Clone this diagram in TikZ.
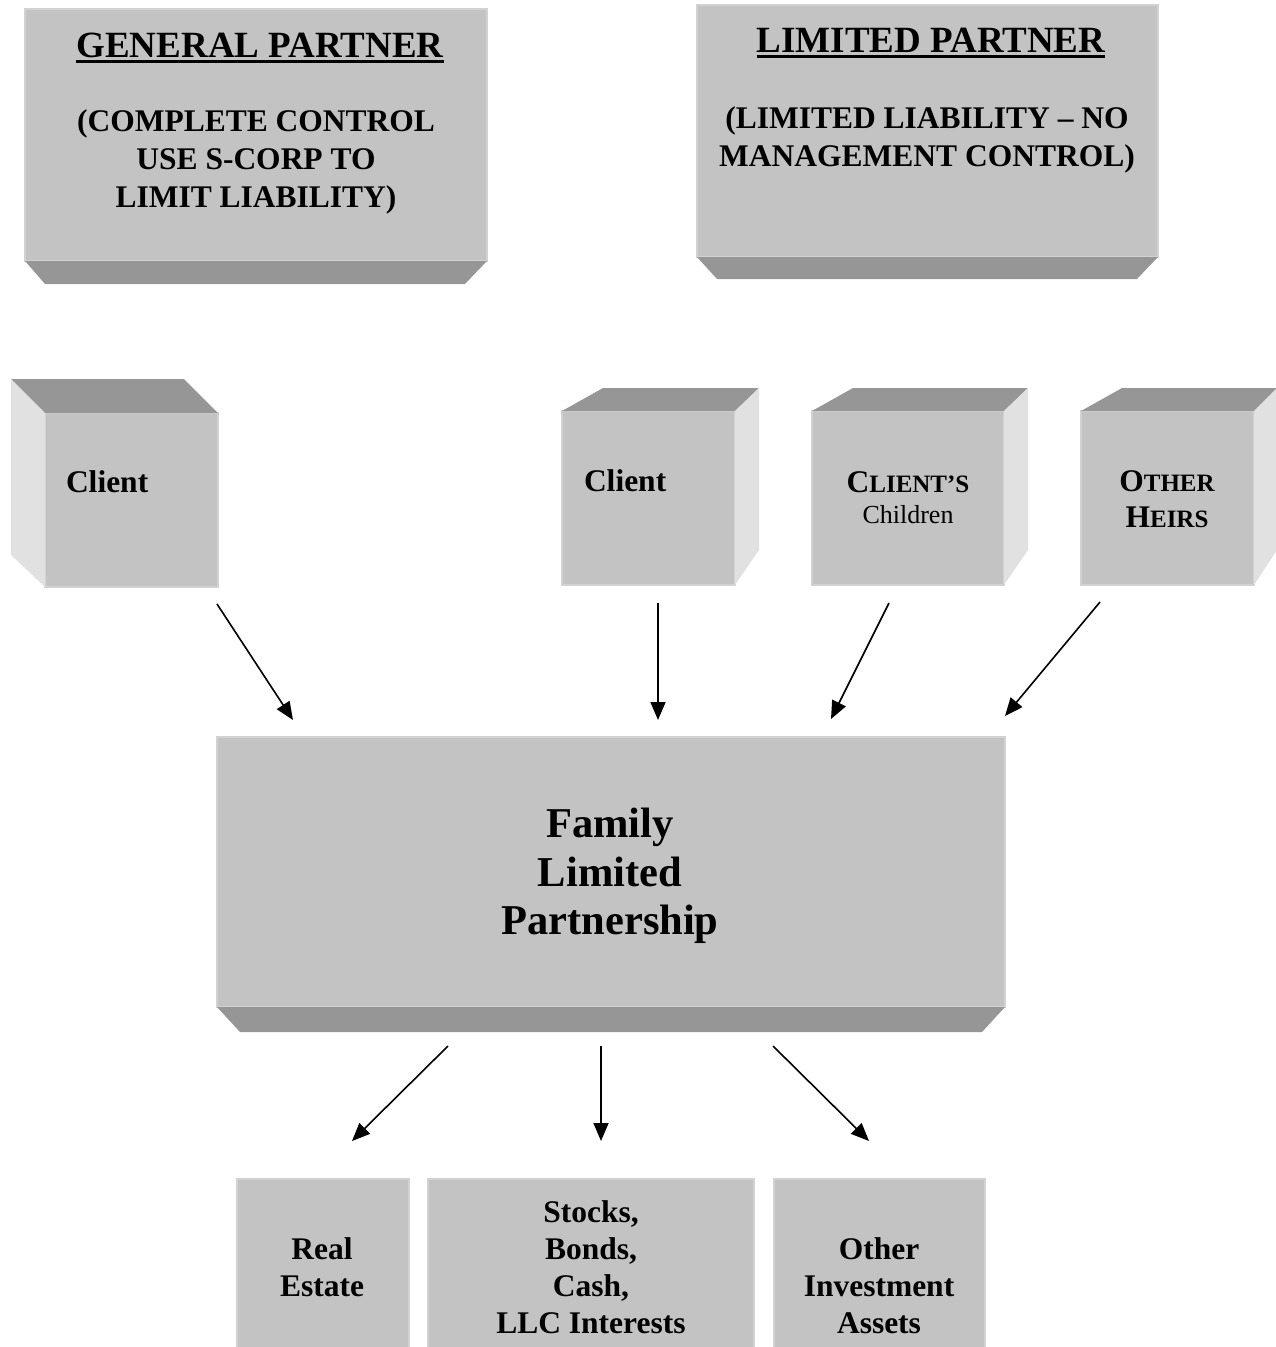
\documentclass[tikz,border=0pt]{standalone}
\usepackage{fontspec}
\setmainfont{Liberation Serif}
\usetikzlibrary{arrows.meta,calc}
\definecolor{frontc}{RGB}{195,195,195}
\definecolor{darkc}{RGB}{150,150,150}
\definecolor{lightc}{RGB}{225,225,225}
\definecolor{edgec}{RGB}{210,210,210}
\newcommand\myttl{\fontsize{37}{42}\selectfont\bfseries}
\newcommand\mybody{\fontsize{31.5}{38}\selectfont\bfseries}
\newcommand\mybot{\fontsize{31.5}{37.3}\selectfont\bfseries}
\newcommand\mybig{\fontsize{42.5}{48.5}\selectfont\bfseries}
\newcommand\mysmall{\fontsize{25}{30}\selectfont\bfseries}
\newcommand\mychild{\fontsize{26}{31}\selectfont\mdseries}
\begin{document}
\begin{tikzpicture}[x=1pt,y=-1pt,
  face/.style={draw=edgec, line width=1.2pt, fill=frontc, inner sep=0pt, outer sep=0pt, anchor=north west},
  lbl/.style={inner sep=0pt, outer sep=0pt, align=center, text=black},
  arr/.style={line width=1.6pt, -{Triangle[length=18pt,width=15pt]}}]
\useasboundingbox (0,0) rectangle (1276,1347);

% ---------- General partner ----------
\node[face, minimum width=462pt, minimum height=252pt] (gp) at (25,9) {};
\fill[darkc] (gp.south west) -- (gp.south east) -- ++(-22,23) -- ($(gp.south west)+(20,23)$) -- cycle;
\node[lbl, font=\myttl, anchor=base] (gpT) at (260,57) {GENERAL PARTNER};
\draw[line width=2.6pt] ([yshift=-4.5pt]gpT.base west) -- ([yshift=-4.5pt]gpT.base east);
\node[lbl, font=\mybody, anchor=north] (gpB) at (256,104.4) {\strut(COMPLETE CONTROL\\USE S-CORP TO\\LIMIT LIABILITY)};

% ---------- Limited partner ----------
\node[face, minimum width=461pt, minimum height=252pt] (lp) at (697,5) {};
\fill[darkc] (lp.south west) -- (lp.south east) -- ++(-21,22) -- ($(lp.south west)+(20,22)$) -- cycle;
\node[lbl, font=\myttl, anchor=base] (lpT) at (931,52) {LIMITED PARTNER};
\draw[line width=2.6pt] ([yshift=-4.5pt]lpT.base west) -- ([yshift=-4.5pt]lpT.base east);
\node[lbl, font=\mybody, anchor=north] (lpB) at (927,101.4) {\strut(LIMITED LIABILITY -- NO\\MANAGEMENT CONTROL)};

% ---------- Left client cube ----------
\node[face, minimum width=173pt, minimum height=174pt] (c1) at (45,413) {};
\fill[darkc] (c1.north west) -- (c1.north east) -- ++(-34,-34) -- ($(c1.north west)+(-34,-34)$) -- cycle;
\fill[lightc] (c1.north west) -- ++(-34,-34) -- ($(c1.south west)+(-34,-32)$) -- (c1.south west) -- cycle;
\node[lbl, font=\mybody, anchor=base west] (c1T) at (66,492) {Client};

% ---------- Middle client cube ----------
\node[face, minimum width=173pt, minimum height=174pt] (c2) at (562,411) {};
\fill[darkc] (c2.north west) -- (c2.north east) -- ++(24,-23) -- ($(c2.north west)+(41,-23)$) -- cycle;
\fill[lightc] (c2.north east) -- ++(24,-23) -- ($(c2.south east)+(24,-35)$) -- (c2.south east) -- cycle;
\node[lbl, font=\mybody, anchor=base west] (c2T) at (584,491) {Client};

% ---------- Client's children cube ----------
\node[face, minimum width=192pt, minimum height=174pt] (c3) at (812,411) {};
\fill[darkc] (c3.north west) -- (c3.north east) -- ++(24,-23) -- ($(c3.north west)+(41,-23)$) -- cycle;
\fill[lightc] (c3.north east) -- ++(24,-23) -- ($(c3.south east)+(24,-35)$) -- (c3.south east) -- cycle;
\node[lbl, anchor=base] (c3T) at (908,492) {\mybody C\mysmall LIENT’S};
\node[lbl, font=\mychild, anchor=base] (c3S) at (908,523) {Children};

% ---------- Other heirs cube ----------
\node[face, minimum width=173pt, minimum height=174pt] (c4) at (1081,411) {};
\fill[darkc] (c4.north west) -- (c4.north east) -- ++(23,-23) -- ($(c4.north west)+(41,-23)$) -- cycle;
\fill[lightc] (c4.north east) -- ++(23,-23) -- ($(c4.south east)+(23,-35)$) -- (c4.south east) -- cycle;
\node[lbl, anchor=base] (c4T) at (1167,491) {\mybody O\mysmall THER};
\node[lbl, anchor=base] (c4S) at (1167,527) {\mybody H\mysmall EIRS};

% ---------- Family limited partnership ----------
\node[face, minimum width=788pt, minimum height=270pt] (flp) at (217,737) {};
\fill[darkc] (flp.south west) -- (flp.south east) -- ++(-23,25) -- ($(flp.south west)+(23,25)$) -- cycle;
\node[lbl, font=\mybig, anchor=north] (flpT) at (610,804) {\strut Family\\Limited\\Partnership};

% ---------- Asset boxes ----------
\node[face, minimum width=172pt, minimum height=175pt] (re) at (237,1179) {};
\node[face, minimum width=326pt, minimum height=175pt] (st) at (428,1179) {};
\node[face, minimum width=211pt, minimum height=175pt] (oi) at (774,1179) {};
\node[lbl, font=\mybot, anchor=north] (reT) at (322,1232.9) {\strut Real\\Estate};
\node[lbl, font=\mybot, anchor=north] (stT) at (591,1195.9) {\strut Stocks,\\Bonds,\\Cash,\\LLC Interests};
\node[lbl, font=\mybot, anchor=north] (oiT) at (879,1232.9) {\strut Other\\Investment\\Assets};

% ---------- Arrows ----------
\coordinate (a1s) at (217,604);  \coordinate (a1e) at (293,720);
\coordinate (a2s) at (658,603);  \coordinate (a2e) at (658,720);
\coordinate (a3s) at (889,603);  \coordinate (a3e) at (831,719);
\coordinate (a4s) at (1100,602); \coordinate (a4e) at (1005,716);
\coordinate (b1s) at (448,1046); \coordinate (b1e) at (352,1141);
\coordinate (b2s) at (601,1046); \coordinate (b2e) at (601,1141);
\coordinate (b3s) at (773,1046); \coordinate (b3e) at (869,1141);
\draw[arr] (a1s) -- (a1e);
\draw[arr] (a2s) -- (a2e);
\draw[arr] (a3s) -- (a3e);
\draw[arr] (a4s) -- (a4e);
\draw[arr] (b1s) -- (b1e);
\draw[arr] (b2s) -- (b2e);
\draw[arr] (b3s) -- (b3e);
\end{tikzpicture}
\end{document}
